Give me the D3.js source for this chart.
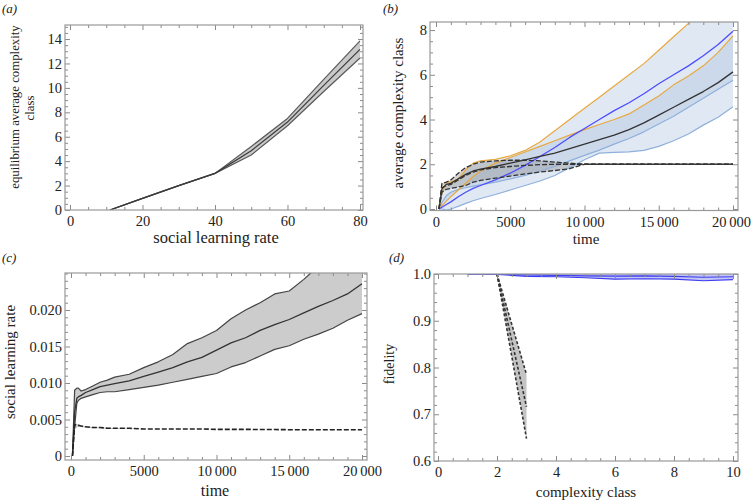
<!DOCTYPE html>
<html><head><meta charset="utf-8">
<script src="https://cdn.jsdelivr.net/npm/d3@7"></script>
<style>
body{margin:0;background:#fff}
text{font-family:"Liberation Serif","Times New Roman",serif;fill:#222}
</style>
</head><body>
<svg id="chart" width="752" height="503"></svg>
<script>
// ---------------- DATA ----------------
// panel (a)
const aRate  = [11, 20, 30, 40, 50, 60, 70, 80];
const aMean  = [0, 0.95, 2.0, 3.0, 4.85, 7.2, 10.2, 13.15];
const aUpper = [0, 0.95, 2.0, 3.0, 5.2, 7.5, 10.7, 13.85];
const aLower = [0, 0.95, 2.0, 3.0, 4.5, 6.9, 9.7, 12.45];
const aXTicks = [0, 20, 40, 60, 80];
const aYTicks = [0, 2, 4, 6, 8, 10, 12, 14];

// panel (b)
const bTime      = [200, 400, 700, 1000, 1500, 2000, 2500, 3000, 4000, 5000, 6000, 7000, 8000, 9000, 10000, 11000, 12000, 13000, 14000, 15000, 16000, 17000, 18000, 19000, 20000];
const bBlueMean  = [0, 0.08, 0.2, 0.32, 0.55, 0.75, 0.92, 1.05, 1.3, 1.6, 1.95, 2.35, 2.75, 3.2, 3.6, 4.0, 4.4, 4.75, 5.15, 5.6, 6.0, 6.4, 6.85, 7.35, 7.95];
const bOrange1   = [0, 0.7, 1.2, 1.2, 1.35, 1.75, 2.05, 2.15, 2.22, 2.38, 2.62, 3.0, 3.5, 4.0, 4.5, 5.0, 5.5, 6.0, 6.5, 7.1, 7.7, 8.3, 8.9, 9.5, 10.1];
const bOrange2   = [0, 0.15, 0.35, 0.55, 0.85, 1.15, 1.45, 1.7, 2.05, 2.3, 2.55, 2.8, 3.05, 3.3, 3.55, 3.78, 4.0, 4.25, 4.65, 5.05, 5.55, 5.95, 6.4, 7.0, 7.74];
const bBlackMean = [0, 0.9, 1.1, 1.15, 1.35, 1.55, 1.7, 1.78, 1.9, 2.05, 2.2, 2.35, 2.5, 2.7, 2.9, 3.1, 3.3, 3.55, 3.85, 4.2, 4.55, 4.9, 5.25, 5.65, 6.13];
const bLower2    = [0, 0.3, 0.6, 0.75, 0.88, 0.95, 1.02, 1.08, 1.2, 1.35, 1.5, 1.7, 1.9, 2.15, 2.4, 2.63, 2.9, 3.15, 3.45, 3.8, 4.15, 4.55, 4.95, 5.35, 5.76];
const bLower1    = [0, 0, -0.05, 0, 0.12, 0.25, 0.37, 0.47, 0.65, 0.85, 1.05, 1.25, 1.5, 1.85, 2.2, 2.5, 2.53, 2.55, 2.62, 2.8, 3.05, 3.35, 3.75, 4.1, 4.57];
const bDashUpper = [0, 1.15, 1.2, 1.3, 1.6, 1.85, 2.0, 2.1, 2.15, 2.18, 2.18, 2.15, 2.1, 2.05, 2.0, 2.0, 2.0, 2.0, 2.0, 2.0, 2.0, 2.0, 2.0, 2.0, 2.0];
const bDashMean  = [0, 0.95, 1.05, 1.1, 1.3, 1.5, 1.65, 1.75, 1.85, 1.9, 1.95, 1.98, 2.0, 2.0, 2.0, 2.0, 2.0, 2.0, 2.0, 2.0, 2.0, 2.0, 2.0, 2.0, 2.0];
const bDashLower = [0, 0.75, 0.88, 0.92, 0.98, 1.05, 1.2, 1.28, 1.38, 1.47, 1.57, 1.65, 1.72, 1.8, 2.0, 2.0, 2.0, 2.0, 2.0, 2.0, 2.0, 2.0, 2.0, 2.0, 2.0];
const bXTicks = [0, 5000, 10000, 15000, 20000];
const bXLabels = ["0", "5000", "10\u2009000", "15\u2009000", "20\u2009000"];
const bYTicks = [0, 2, 4, 6, 8];

// panel (c)
const cTime  = [100, 250, 400, 500, 700, 1000, 1500, 2000, 2500, 3000, 4000, 5000, 6000, 7000, 8000, 9000, 10000, 11000, 12000, 13000, 14000, 15000, 16000, 17000, 18000, 19000, 20000];
const cMean  = [0, 0.006, 0.0079, 0.0081, 0.0083, 0.0087, 0.0091, 0.0095, 0.0097, 0.0099, 0.0103, 0.0109, 0.0115, 0.0121, 0.0129, 0.0135, 0.0145, 0.0155, 0.0162, 0.0172, 0.0180, 0.0187, 0.0196, 0.0205, 0.0213, 0.0222, 0.0236];
const cUpper = [0, 0.0090, 0.0093, 0.0093, 0.0089, 0.0091, 0.0096, 0.0101, 0.0104, 0.0108, 0.0112, 0.0121, 0.0129, 0.0139, 0.0154, 0.0162, 0.0172, 0.0188, 0.0200, 0.0210, 0.0222, 0.0226, 0.0242, 0.0260, 0.0270, 0.0280, 0.0290];
const cLower = [0, 0.0040, 0.0072, 0.0076, 0.0079, 0.0081, 0.0084, 0.0087, 0.0088, 0.0088, 0.0091, 0.0094, 0.0097, 0.0101, 0.0105, 0.0109, 0.0113, 0.0122, 0.0128, 0.0137, 0.0146, 0.0151, 0.0160, 0.0167, 0.0175, 0.0186, 0.0195];
const cDash  = [0, 0.0043, 0.0042, 0.0042, 0.0041, 0.0040, 0.0039, 0.0039, 0.0038, 0.0038, 0.0038, 0.0037, 0.0037, 0.0037, 0.0037, 0.0037, 0.00365, 0.00365, 0.00365, 0.00362, 0.00362, 0.0036, 0.0036, 0.0036, 0.0036, 0.0036, 0.0036];
const cDashUpper = [0, 0.0045, 0.0044, 0.0043, 0.0042, 0.0041, 0.0040, 0.0039, 0.0039, 0.0038, 0.0038, 0.0037, 0.0037, 0.0037, 0.0037, 0.0037, 0.00365, 0.00365, 0.00365, 0.00362, 0.00362, 0.0036, 0.0036, 0.0036, 0.0036, 0.0036, 0.0036];
const cDashLower = [0, 0.0036, 0.0039, 0.0040, 0.0040, 0.0039, 0.0038, 0.0038, 0.0037, 0.0037, 0.0037, 0.0037, 0.0037, 0.0037, 0.0037, 0.0037, 0.00365, 0.00365, 0.00365, 0.00362, 0.00362, 0.0036, 0.0036, 0.0036, 0.0036, 0.0036, 0.0036];
const cXTicks = [0, 5000, 10000, 15000, 20000];
const cXLabels = ["0", "5000", "10\u2009000", "15\u2009000", "20\u2009000"];
const cYTicks = [0, 0.005, 0.010, 0.015, 0.020];
const cYLabels = ["0", "0.005", "0.010", "0.015", "0.020"];

// panel (d)
const dClass = [1, 2, 3, 4, 5, 6, 7, 8, 9, 10];
const dUpper = [1.0, 1.0, 1.0, 1.001, 1.0015, 1.001, 1.001, 1.001, 1.0015, 1.0015];
const dMean  = [1.0, 0.9995, 0.998, 0.997, 0.996, 0.9955, 0.996, 0.995, 0.993, 0.994];
const dLower = [1.0, 0.999, 0.995, 0.994, 0.992, 0.989, 0.990, 0.989, 0.9855, 0.988];
const dDashClass = [2, 3];
const dDashUpper = [1.0, 0.785];
const dDashMean  = [1.0, 0.716];
const dDashLower = [1.0, 0.648];
const dXTicks = [0, 2, 4, 6, 8, 10];
const dYTicks = [0.6, 0.7, 0.8, 0.9, 1.0];
const dYLabels = ["0.6", "0.7", "0.8", "0.9", "1.0"];

// ---------------- DRAWING ----------------
const svg = d3.select("#chart");
const FS = 15;
const TICKFS = 14.5;

function axisGen(kind, scale) {
  return {bottom: d3.axisBottom, top: d3.axisTop, left: d3.axisLeft, right: d3.axisRight}[kind](scale);
}
function rangeIn(domain, step) {
  const lo = Math.min(domain[0], domain[1]), hi = Math.max(domain[0], domain[1]);
  const out = [];
  for (let v = Math.ceil(lo / step - 1e-9) * step; v <= hi + 1e-9; v += step) out.push(+v.toFixed(6));
  return out;
}

function makePanel(cfg) {
  const x = d3.scaleLinear().domain(cfg.xd).range([cfg.l, cfg.r]);
  const y = d3.scaleLinear().domain(cfg.yd).range([cfg.b, cfg.t]);
  const clipId = "clip-" + cfg.name;
  svg.append("clipPath").attr("id", clipId).append("rect")
    .attr("x", cfg.l).attr("y", cfg.t).attr("width", cfg.r - cfg.l).attr("height", cfg.b - cfg.t);
  const plot = svg.append("g").attr("clip-path", `url(#${clipId})`);
  return {x, y, plot, cfg};
}

function drawFrame(p) {
  const {x, y, cfg} = p;
  const g = svg.append("g");
  const sides = [
    ["bottom", x, `translate(0,${cfg.b})`, true, cfg.xTicks, cfg.xLabels, cfg.xMinor, 6],
    ["top", x, `translate(0,${cfg.t})`, false, cfg.xTicks, null, cfg.xMinor, 0],
    ["left", y, `translate(${cfg.l},0)`, true, cfg.yTicks, cfg.yLabels, cfg.yMinor, 3],
    ["right", y, `translate(${cfg.r},0)`, false, cfg.yTicks, null, cfg.yMinor, 0]
  ];
  sides.forEach(([kind, sc, tr, lab, major, labels, minorStep, pad]) => {
    const minor = rangeIn(sc.domain(), minorStep).filter(v => !major.some(m => Math.abs(m - v) < 1e-9));
    const gm = g.append("g").attr("transform", tr)
      .call(axisGen(kind, sc).tickValues(minor).tickSize(-3).tickFormat(""));
    gm.select(".domain").remove();
    const ga = g.append("g").attr("transform", tr)
      .call(axisGen(kind, sc).tickValues(major).tickSize(-5).tickPadding(pad)
        .tickFormat((d, i) => lab ? (labels ? labels[i] : String(d)) : ""));
    ga.select(".domain").remove();
    g.selectAll(".tick line").attr("stroke", "#8a8a8a").attr("stroke-width", 1);
    ga.selectAll("text").attr("font-size", TICKFS).attr("fill", "#222")
      .style("font-family", '"Liberation Serif", "Times New Roman", serif');
    if (kind === "bottom" && cfg.lastShift) {
      ga.selectAll("text").filter((d, i, n) => i === n.length - 1).attr("dx", cfg.lastShift);
    }
  });
  g.append("rect").attr("x", cfg.l).attr("y", cfg.t)
    .attr("width", cfg.r - cfg.l).attr("height", cfg.b - cfg.t)
    .attr("fill", "none").attr("stroke", "#999").attr("stroke-width", 1.2);
}

function series(xs, ...cols) {
  return xs.map((v, i) => [v, ...cols.map(c => c[i])]);
}
function addArea(p, data, lo, hi, fill, opacity) {
  p.plot.append("path").datum(data)
    .attr("d", d3.area().x(d => p.x(d[0])).y0(d => p.y(d[lo])).y1(d => p.y(d[hi])))
    .attr("fill", fill).attr("fill-opacity", opacity).attr("stroke", "none");
}
function addLine(p, data, col, stroke, width, dash) {
  const path = p.plot.append("path").datum(data)
    .attr("d", d3.line().x(d => p.x(d[0])).y(d => p.y(d[col])))
    .attr("fill", "none").attr("stroke", stroke).attr("stroke-width", width)
    .attr("stroke-linejoin", "round");
  if (dash) path.attr("stroke-dasharray", dash);
}
function addText(txt, x, y, opts = {}) {
  const t = svg.append("text").text(txt).attr("font-size", opts.size || FS)
    .attr("text-anchor", opts.anchor || "middle");
  if (opts.rotate) t.attr("transform", `translate(${x},${y}) rotate(-90)`);
  else t.attr("x", x).attr("y", y);
  if (opts.italic) t.attr("font-style", "italic");
  return t;
}

// ---- panel a ----
const pa = makePanel({name: "a", l: 65, r: 363, t: 25, b: 210, xd: [-1.38, 80.83], yd: [0, 15.15],
  xTicks: aXTicks, xMinor: 5, yTicks: aYTicks, yMinor: 0.5});
const aData = series(aRate, aLower, aMean, aUpper);
addArea(pa, aData, 1, 3, "#c9c9c9", 1);
addLine(pa, aData, 1, "#5a5a5a", 1.2);
addLine(pa, aData, 3, "#5a5a5a", 1.2);
addLine(pa, aData, 2, "#3a3a3a", 1.2);
drawFrame(pa);

// ---- panel b ----
const pb = makePanel({name: "b", l: 430, r: 738, t: 22, b: 210.5, xd: [-404, 20337], yd: [-0.067, 8.36],
  xTicks: bXTicks, xLabels: bXLabels, xMinor: 1000, yTicks: bYTicks, yMinor: 0.5, lastShift: -2});
const bData = series(bTime, bBlueMean, bOrange1, bOrange2, bBlackMean, bLower2, bLower1, bDashUpper, bDashMean, bDashLower);
// columns: 1 blue, 2 or1, 3 or2, 4 black, 5 low2, 6 low1, 7 dU, 8 dM, 9 dL
addArea(pb, bData, 6, 2, "#a8bede", 0.36);
addArea(pb, bData, 5, 3, "#a8bede", 0.36);
addArea(pb, bData, 9, 7, "#8c8c8c", 0.38);
addLine(pb, bData, 6, "#8fb0dc", 1.2);
addLine(pb, bData, 5, "#8fb0dc", 1.2);
addLine(pb, bData, 2, "#e7a93f", 1.2);
addLine(pb, bData, 3, "#e7a93f", 1.2);
addLine(pb, bData, 1, "#4d4dff", 1.3);
addLine(pb, bData, 4, "#333", 1.3);
addLine(pb, bData, 7, "#333", 1.3, "5,2");
addLine(pb, bData, 9, "#333", 1.3, "5,2");
addLine(pb, bData, 8, "#333", 1.3, "5,2");
drawFrame(pb);

// ---- panel c ----
const pc = makePanel({name: "c", l: 65, r: 367, t: 273, b: 460, xd: [-412, 20344], yd: [-0.00055, 0.02507],
  xTicks: cXTicks, xLabels: cXLabels, xMinor: 1000, yTicks: cYTicks, yLabels: cYLabels, yMinor: 0.001});
const cData = series(cTime, cLower, cMean, cUpper, cDashLower, cDash, cDashUpper);
addArea(pc, cData, 1, 3, "#cccccc", 1);
addArea(pc, cData, 4, 6, "#bbbbbb", 0.8);
addLine(pc, cData, 1, "#444", 1.2);
addLine(pc, cData, 3, "#444", 1.2);
addLine(pc, cData, 2, "#333", 1.3);
addLine(pc, cData, 5, "#222", 1.6, "5,2");
drawFrame(pc);

// ---- panel d ----
const pd = makePanel({name: "d", l: 434, r: 738, t: 274, b: 461, xd: [-0.136, 10.17], yd: [0.6, 1.0],
  xTicks: dXTicks, xMinor: 0.5, yTicks: dYTicks, yLabels: dYLabels, yMinor: 0.02});
const dData = series(dClass, dLower, dMean, dUpper);
addArea(pd, dData, 1, 3, "#b4b8f2", 0.8);
addLine(pd, dData, 1, "#3c3cf0", 1.1);
addLine(pd, dData, 3, "#3c3cf0", 1.1);
addLine(pd, dData, 2, "#3c3cf0", 1.1);
const ddData = series(dDashClass, dDashLower, dDashMean, dDashUpper);
addArea(pd, ddData, 1, 3, "#c4c4c4", 1);
addLine(pd, ddData, 1, "#333", 1.6, "3,2");
addLine(pd, ddData, 2, "#333", 1.6, "3,2");
addLine(pd, ddData, 3, "#333", 1.6, "3,2");
drawFrame(pd);

// ---- labels ----
addText("(a)", 2, 13, {anchor: "start", italic: true, size: 13});
addText("(b)", 383, 13, {anchor: "start", italic: true, size: 13});
addText("(c)", 2, 262, {anchor: "start", italic: true, size: 13});
addText("(d)", 389, 262, {anchor: "start", italic: true, size: 13});

addText("social learning rate", 216, 243, {size: 16.5});
addText("equilibrium average complexity", 19, 107, {rotate: true, size: 12.8});
addText("class", 34, 108, {rotate: true, size: 12.8});

addText("time", 586, 244);
addText("average complexity class", 403, 113, {rotate: true});

addText("time", 215, 496, {size: 16});
addText("social learning rate", 15, 362, {rotate: true});

addText("complexity class", 586, 497);
addText("fidelity", 394, 364, {rotate: true, size: 14});
</script>
</body></html>
